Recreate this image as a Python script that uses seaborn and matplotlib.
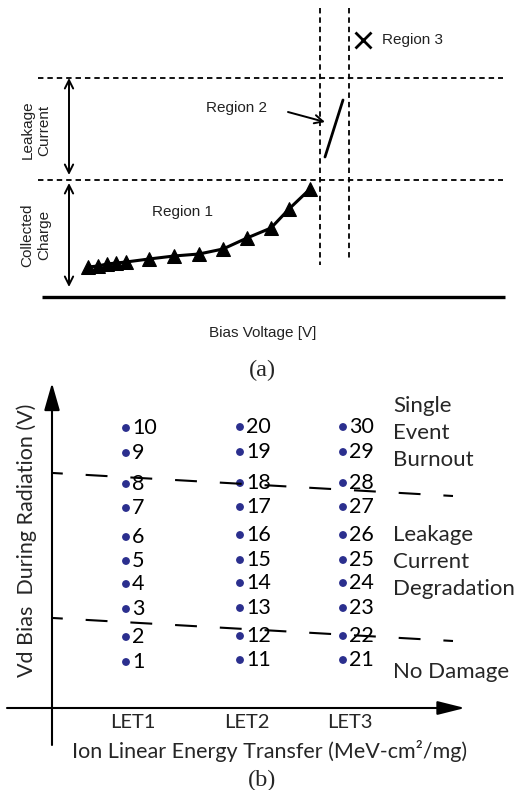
import matplotlib
matplotlib.use("Agg")
import matplotlib.pyplot as plt
import numpy as np
import pandas as pd
import seaborn as sns

# ---------------- data: (a) collected charge vs. bias ----------------
bias = [46, 56, 65, 74, 84, 107, 132, 157, 181, 205, 229, 247, 268]
charge = [30, 31, 33, 34, 35, 38, 41, 43, 48, 59, 69, 88, 108]
charge_limit = 117          # top of collected-charge region
leakage_limit = 219         # top of leakage-current region
region2_bias = [283, 301]
region2_level = [140, 197]
burnout_bias = [278, 307]   # vertical boundaries
region3_point = (321, 257)

# ---------------- data: (b) test matrix ----------------
let_names = ["LET1", "LET2", "LET3"]
let_pos = [74, 188, 291]
bias_levels = {
    "LET1": [46, 71, 99, 124, 147, 171, 200, 224, 255, 280],
    "LET2": [48, 72, 100, 125, 148, 173, 201, 225, 256, 281],
    "LET3": [48, 72, 100, 125, 148, 173, 201, 225, 256, 281],
}
sebo_x = [1, 401]
sebo_y = [235, 212]
leak_x = [1, 401]
leak_y = [90, 67]
region_names = ["Single\nEvent\nBurnout", "Leakage\nCurrent\nDegradation", "No Damage"]
region_y = [275, 146, 36]

sns.set_theme(style="white")
plt.rcParams["font.family"] = ["Liberation Sans", "DejaVu Sans"]

fig = plt.figure(figsize=(5.14, 7.90), dpi=100)

# ======================= panel (a) =======================
ax1 = fig.add_axes([0, 450 / 790, 1, 340 / 790])
ax1.set_xlim(-42, 472)
ax1.set_ylim(-43, 297)
ax1.axis("off")

df_a = pd.DataFrame({"bias": bias, "charge": charge})
sns.lineplot(data=df_a, x="bias", y="charge", ax=ax1, color="black", lw=2.2,
             marker="^", markersize=10, markeredgecolor="black", sort=False)

dash_fine = (0, (3, 2.2))
for yv in (charge_limit, leakage_limit):
    ax1.plot([-4, 461], [yv, yv], color="black", lw=1.3, ls=dash_fine)
ax1.plot([burnout_bias[0]] * 2, [289, 32], color="black", lw=1.3, ls=dash_fine)
ax1.plot([burnout_bias[1]] * 2, [289, 37], color="black", lw=1.3, ls=dash_fine)

# bias axis baseline
ax1.plot([0, 463], [0, 0], color="black", lw=2.4, solid_capstyle="butt")

# region extents
arrow_kw = dict(arrowstyle="<->,head_length=0.5,head_width=0.25", color="black",
                lw=1.4, shrinkA=0, shrinkB=0)
ax1.annotate("", xy=(27, leakage_limit), xytext=(27, 122), arrowprops=arrow_kw)
ax1.annotate("", xy=(27, 114), xytext=(27, 10), arrowprops=arrow_kw)

ax1.plot(region2_bias, region2_level, color="black", lw=2)
ax1.annotate("", xy=(283, 175), xytext=(246, 185),
             arrowprops=dict(arrowstyle="->,head_length=0.5,head_width=0.25",
                             color="black", lw=1.4, shrinkA=0, shrinkB=0))
ax1.plot([region3_point[0]], [region3_point[1]], marker="x", ms=11, mew=2,
         color="black", ls="none")

txt_a = dict(fontsize=11, color="#222222")
ax1.text(195, 189, "Region 2", ha="center", va="center", **txt_a)
ax1.text(141, 85, "Region 1", ha="center", va="center", **txt_a)
ax1.text(340, 257, "Region 3", ha="left", va="center", **txt_a)
ax1.text(221, -36, "Bias Voltage [V]", ha="center", va="center", **txt_a)
ax1.text(-6, 167, "Leakage\nCurrent", rotation=90, ha="center", va="center",
         linespacing=1.25, **txt_a)
ax1.text(-6, 62, "Collected\nCharge", rotation=90, ha="center", va="center",
         linespacing=1.25, **txt_a)

# ======================= panel (b) =======================
ax2 = fig.add_axes([0, 0, 1, 450 / 790])
ax2.set_xlim(-52, 462)
ax2.set_ylim(-82, 368)
ax2.axis("off")

rows = []
num = 1
for name, xp in zip(let_names, let_pos):
    for yv in bias_levels[name]:
        rows.append({"let": name, "x": xp, "y": yv, "run": num})
        num += 1
df_b = pd.DataFrame(rows)

sns.scatterplot(data=df_b, x="x", y="y", ax=ax2, s=32, color="#2b2f8e",
                edgecolor="none", legend=False)

body_font = ["Lato", "DejaVu Sans"]
for _, r in df_b.iterrows():
    ax2.text(r["x"] + 6, r["y"], str(r["run"]), ha="left", va="center",
             fontsize=15.5, family=body_font, color="black")

dash_long = (5.8, (10.5, 11))
ax2.plot(sebo_x, sebo_y, color="black", lw=1.5, ls=dash_long)
ax2.plot(leak_x, leak_y, color="black", lw=1.5, ls=dash_long)

for label, yv in zip(region_names, region_y):
    ax2.text(341, yv, label, ha="left", va="center", fontsize=16,
             family=body_font, linespacing=1.45)

# axes with arrowheads
ax2.annotate("", xy=(0, 325), xytext=(0, -37),
             arrowprops=dict(arrowstyle="-|>,head_length=1.4,head_width=0.4",
                             color="black", lw=1.5, shrinkA=0, shrinkB=0))
ax2.annotate("", xy=(413, 0), xytext=(-45, 0),
             arrowprops=dict(arrowstyle="-|>,head_length=1.4,head_width=0.35",
                             color="black", lw=1.5, shrinkA=0, shrinkB=0))

for name, xp in zip(let_names, let_pos):
    ax2.text(xp + 7, -15, name, ha="center", va="center", fontsize=14.5,
             family=body_font)

ax2.text(218, -43, "Ion Linear Energy Transfer (MeV-cm²/mg)", ha="center",
         va="center", fontsize=15.5, family=body_font)
ax2.text(-25, 168, "Vd Bias  During Radiation (V)", rotation=90, ha="center",
         va="center", fontsize=15.5, family=body_font)

serif = ["Liberation Serif", "DejaVu Serif"]
ax2.text(210, 338, "(a)", ha="center", va="center", fontsize=17.5, family=serif)
ax2.text(210, -72, "(b)", ha="center", va="center", fontsize=17.5, family=serif)

fig.savefig("out.png", dpi=100)
